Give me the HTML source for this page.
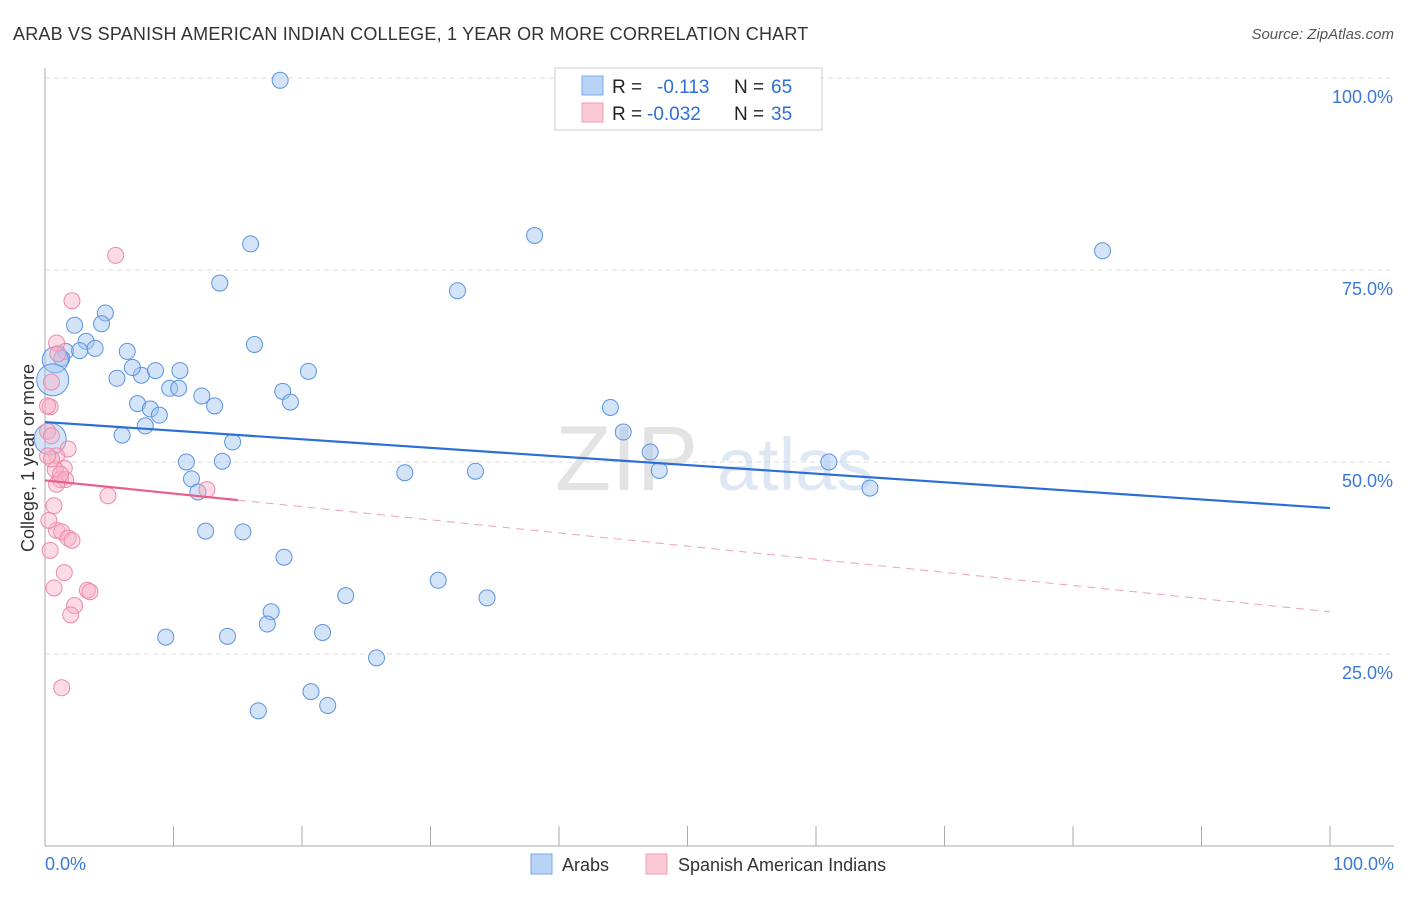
<!DOCTYPE html>
<html><head><meta charset="utf-8">
<style>
body{margin:0;background:#fff;font-family:"Liberation Sans",sans-serif;}
svg text{font-family:"Liberation Sans",sans-serif;}
</style></head>
<body>
<svg id="chart" width="1406" height="892" xmlns="http://www.w3.org/2000/svg">
<text x="13" y="40" font-size="18" fill="#333" letter-spacing="0.2">ARAB VS SPANISH AMERICAN INDIAN COLLEGE, 1 YEAR OR MORE CORRELATION CHART</text>
<text x="1394" y="39" font-size="15" fill="#555" text-anchor="end" font-style="italic">Source: ZipAtlas.com</text>
<text transform="translate(34,458) rotate(-90)" font-size="18" fill="#333" text-anchor="middle">College, 1 year or more</text>
<g id="grid"></g>
<text x="555" y="490" font-size="92" fill="#ddd" font-family="Liberation Serif" opacity="0.8">ZIP</text>
<text x="717" y="490" font-size="74" fill="#c9d9f0" opacity="0.6">atlas</text>
<g id="points"></g>
<g id="lines"></g>
<g>
<rect x="555" y="68" width="267" height="62" fill="#fff" stroke="#ccc"/>
<rect x="582" y="76" width="21" height="19" fill="#b8d3f5" stroke="#7aa7e6"/>
<rect x="582" y="103" width="21" height="19" fill="#fbc8d6" stroke="#f19ab4"/>
<text x="612" y="93" font-size="19" fill="#222">R =</text><text x="657" y="93" font-size="19" fill="#2f6fd6">-0.113</text>
<text x="734" y="93" font-size="19" fill="#222">N =</text><text x="771" y="93" font-size="19" fill="#2f6fd6">65</text>
<text x="612" y="120" font-size="19" fill="#222">R =</text><text x="647" y="120" font-size="19" fill="#2f6fd6">-0.032</text>
<text x="734" y="120" font-size="19" fill="#222">N =</text><text x="771" y="120" font-size="19" fill="#2f6fd6">35</text>
</g>
<g>
<rect x="531" y="854" width="21" height="20" fill="#b8d3f5" stroke="#7aa7e6"/>
<text x="562" y="871" font-size="18" fill="#333">Arabs</text>
<rect x="646" y="854" width="21" height="20" fill="#fbc8d6" stroke="#f19ab4"/>
<text x="678" y="871" font-size="18" fill="#333">Spanish American Indians</text>
</g>
</svg>
<script>
const arabX=[18.3,16.0,38.1,82.3,13.6,32.1,4.7,4.4,2.3,16.3,3.2,1.6,2.7,3.9,6.4,1.3,0.8,0.6,7.5,5.6,6.8,8.6,10.5,9.7,10.4,12.2,18.5,20.5,19.1,7.2,8.2,8.9,13.2,7.8,6.0,14.6,0.4,11.0,13.8,28.0,33.5,44.0,45.0,47.1,47.8,61.0,64.2,11.4,11.9,12.5,15.4,18.6,30.6,23.4,34.4,17.6,17.3,21.6,9.4,14.2,25.8,20.7,22.0,16.6];
const arabY=[99.7,78.4,79.5,77.5,73.3,72.3,69.4,68.0,67.8,65.3,65.7,64.4,64.5,64.8,64.4,63.5,63.3,60.7,61.3,60.9,62.3,61.9,61.9,59.6,59.6,58.6,59.2,61.8,57.8,57.6,56.9,56.1,57.3,54.7,53.5,52.6,53.0,50.0,50.1,48.6,48.8,57.1,53.9,51.3,48.9,50.0,46.6,47.8,46.1,41.0,40.9,37.6,34.6,32.6,32.3,30.5,28.9,27.8,27.2,27.3,24.5,20.1,18.3,17.6];
const arabR=[8,8,8,8,8,8,8,8,8,8,8,8,8,8,8,8,13,16,8,8,8,8,8,8,8,8,8,8,8,8,8,8,8,8,8,8,16,8,8,8,8,8,8,8,8,8,8,8,8,8,8,8,8,8,8,8,8,8,8,8,8,8,8,8];
const pinkX=[5.5,2.1,0.9,0.5,0.4,0.2,1.8,0.9,1.5,0.8,1.2,1.6,0.5,0.9,4.9,12.6,0.9,1.3,1.8,2.1,0.4,1.5,0.7,3.3,3.5,2.3,2.0,1.3,0.2,0.5,0.3,0.7,0.2,1.2,1.0];
const pinkY=[76.9,71.0,65.5,60.4,57.2,54.0,51.7,50.8,49.2,49.0,47.7,47.7,50.4,47.1,45.6,46.4,41.1,40.9,40.1,39.8,38.5,35.6,33.6,33.3,33.1,31.3,30.1,20.6,50.8,53.4,42.4,44.3,57.3,48.4,64.1];
const xTicks=[0,10,20,30,40,50,60,70,80,90,100];
const yTicks=[25,50,75,100];
const yTickLabels=["25.0%","50.0%","75.0%","100.0%"];
const xEndLabels=["0.0%","100.0%"];
const arabTrend=[55.2,44.0];
const pinkTrend=[47.6,30.5];
const pinkSolidEnd=15;

const NS="http://www.w3.org/2000/svg";
const X=v=>45+v*12.85, Y=v=>846-v*7.68;
function mk(tag,a,p){const e=document.createElementNS(NS,tag);for(const k in a)e.setAttribute(k,a[k]);p.appendChild(e);return e;}
const grid=document.getElementById('grid'),pts=document.getElementById('points'),ln=document.getElementById('lines');
yTicks.forEach((t,i)=>{
 const l=mk('line',{x1:45,x2:1394,y1:Y(t),y2:Y(t),stroke:'#ddd','stroke-dasharray':'5,4'},grid);
 
 
 const tx=mk('text',{x:1393,y:Y(t)+25,'font-size':18,fill:'#3a78d8','text-anchor':'end'},grid);
 tx.textContent=yTickLabels[i];
 
 
});
const ax=mk('line',{x1:45,x2:45,y1:68,y2:846,stroke:'#aaa'},grid);


const bx=mk('line',{x1:45,x2:1394,y1:846,y2:846,stroke:'#aaa'},grid);


xTicks.forEach(t=>{
 const l=mk('line',{x1:X(t),x2:X(t),y1:826,y2:846,stroke:'#aaa'},grid);
 
 
});
[[0,'start',45],[100,'end',1394]].forEach((d,i)=>{
 const tx=mk('text',{x:d[2],y:870,'font-size':18,fill:'#3a78d8','text-anchor':d[1]},grid);
 tx.textContent=xEndLabels[i];
 
 
});
arabX.forEach((x,i)=>{
 const c=mk('circle',{cx:X(x),cy:Y(arabY[i]),r:arabR[i],fill:'rgba(160,196,240,0.45)',stroke:'#5b93e0','stroke-width':1},pts);
 
 
});
pinkX.forEach((x,i)=>{
 const c=mk('circle',{cx:X(x),cy:Y(pinkY[i]),r:8,fill:'rgba(248,176,198,0.45)',stroke:'#ec8aa9','stroke-width':1},pts);
 
 
});
const at=mk('line',{x1:X(0),y1:Y(arabTrend[0]),x2:X(100),y2:Y(arabTrend[1]),stroke:'#2b6fd6','stroke-width':2.2},ln);


const py=v=>pinkTrend[0]+(pinkTrend[1]-pinkTrend[0])*v/100;
const ps=mk('line',{x1:X(0),y1:Y(py(0)),x2:X(pinkSolidEnd),y2:Y(py(pinkSolidEnd)),stroke:'#e8608a','stroke-width':2.2},ln);


const pd=mk('line',{x1:X(pinkSolidEnd),y1:Y(py(pinkSolidEnd)),x2:X(100),y2:Y(py(100)),stroke:'#eea0b8','stroke-width':1,'stroke-dasharray':'8,6'},ln);


</script>
</body></html>
